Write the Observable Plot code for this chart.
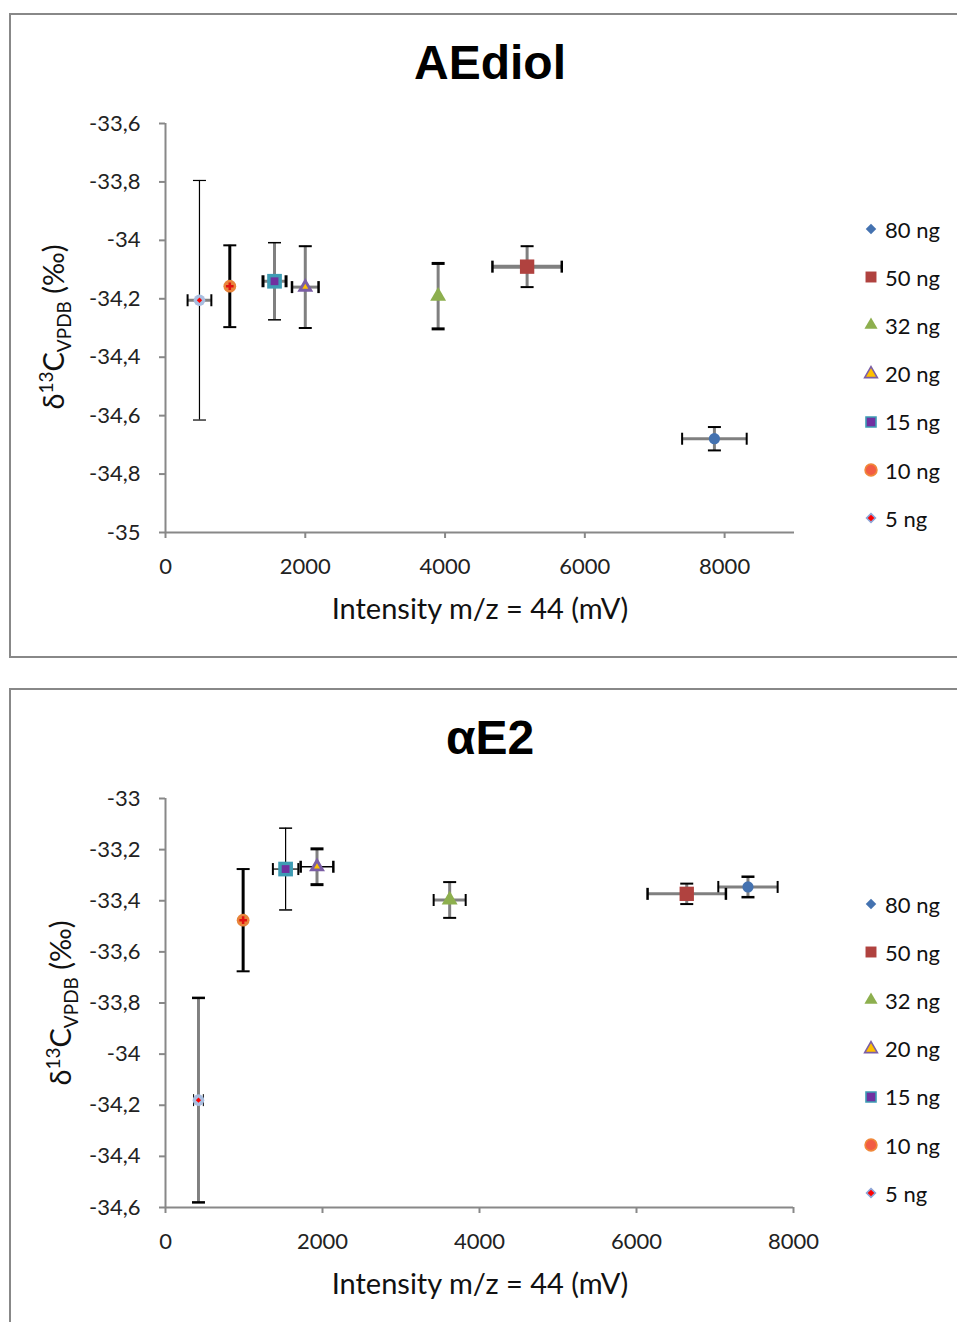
<!DOCTYPE html>
<html>
<head>
<meta charset="utf-8">
<script src="https://cdn.jsdelivr.net/npm/d3@7"></script>
<script src="https://cdn.jsdelivr.net/npm/@observablehq/plot@0.6"></script>
<style>
  html, body { margin: 0; padding: 0; background: #fff; overflow: hidden; }
  #page { position: relative; width: 957px; height: 1322px; overflow: hidden; background: #fff; }
  .frame { position: absolute; left: 9px; width: 980px; border: 2px solid #888; box-sizing: border-box; }
  .title { position: absolute; left: 0; width: 980px; text-align: center; font-family: "Liberation Sans", Arial, sans-serif; font-weight: bold; font-size: 48px; line-height: 48px; color: #000; }
  .chart { position: absolute; left: 0; }
  .xlabel { position: absolute; left: 165px; width: 630px; text-align: center; font-family: Lato, "Noto Sans", sans-serif; font-size: 29px; line-height: 30px; color: #111; white-space: nowrap; }
  .ylabel { position: absolute; font-family: Lato, "Noto Sans", sans-serif; font-size: 29px; color: #111; white-space: nowrap; transform: translate(-50%, -50%) rotate(-90deg); line-height: 30px; }
  .ylabel sup, .ylabel sub { font-size: 19px; }
  .legend { position: absolute; left: 861px; font-family: Lato, "Noto Sans", sans-serif; font-size: 22px; color: #111; }
  .legend .item { position: absolute; left: 0; height: 26px; display: flex; align-items: center; white-space: nowrap; transform: translateY(-50%); }
  .legend svg { width: 20px; height: 20px; margin-right: 4px; }
</style>
</head>
<body>
<div id="page"></div>
<script>
// ---------- data ----------
const seriesNames = ["80 ng", "50 ng", "32 ng", "20 ng", "15 ng", "10 ng", "5 ng"];

// Chart 1: AEdiol
const aeTitle = "AEdiol";
const aeX    = [7854, 5174, 3901, 2000, 1560, 920, 486];
const aeY    = [-34.679, -34.09, -34.191, -34.16, -34.14, -34.157, -34.205];
const aeXErr = [462, 496, 0, 190, 165, 0, 170];
const aeYErr = [0.04, 0.07, 0.112, 0.14, 0.132, 0.14, 0.41];
const aeXTicks = [0, 2000, 4000, 6000, 8000];
const aeYTicks = [-33.6, -33.8, -34, -34.2, -34.4, -34.6, -34.8, -35];
const aeXDomain = [0, 9000];
const aeYDomain = [-35, -33.6];

// Chart 2: αE2
const e2Title = "αE2";
const e2X    = [7420, 6640, 3620, 1930, 1530, 989, 420];
const e2Y    = [-33.346, -33.373, -33.397, -33.267, -33.276, -33.476, -34.18];
const e2XErr = [378, 499, 204, 208, 162, 0, 62];
const e2YErr = [0.04, 0.04, 0.07, 0.07, 0.16, 0.2, 0.4];
const e2XTicks = [0, 2000, 4000, 6000, 8000];
const e2YTicks = [-33, -33.2, -33.4, -33.6, -33.8, -34, -34.2, -34.4, -34.6];
const e2XDomain = [0, 8000];
const e2YDomain = [-34.6, -33];

const xLabel = "Intensity m/z = 44 (mV)";

// ---------- styles ----------
const GRAY = "#808080";
const BLK = "#000";
const aeStyle = {
  vColor: [GRAY, GRAY, GRAY, GRAY, GRAY, BLK, BLK],
  vWidth: [3, 3, 3, 3, 3, 3, 1.2],
  vCapW:  [2, 2, 3, 2, 1.5, 2, 1.2],
  hColor: [GRAY, GRAY, GRAY, GRAY, GRAY, GRAY, GRAY],
  hWidth: [3, 4, 3, 3, 3, 3, 3],
  hCapW:  [2, 2.5, 2, 2.5, 3, 2, 2]
};
const e2Style = {
  vColor: [GRAY, GRAY, GRAY, GRAY, BLK, BLK, GRAY],
  vWidth: [3, 3, 3, 3, 1.2, 3, 3],
  vCapW:  [2.5, 2, 2, 3, 1.5, 2, 2.5],
  hColor: [GRAY, GRAY, GRAY, BLK, BLK, GRAY, GRAY],
  hWidth: [3, 3, 3, 1.5, 1.2, 1, 1],
  hCapW:  [2, 2.5, 2, 2.5, 2, 1, 1]
};

// marker layers per series: [symbol, r, fill]
const markerLayers = [
  [["circle", 5.6, "#4472B0"]],
  [["square", 8.1, "#B0423F"]],
  [["triangle", 5.9, "#8DAF4E"]],
  [["triangle", 5.9, "#7B5EA5"], ["triangle", 2.2, "#FFC000"]],
  [["square", 8.3, "#3E9CB4"], ["square", 4.4, "#7030A0"]],
  [["circle", 6.4, "#E8843A"], ["cross", 3.2, "#E01010"]],
  [["circle", 5.8, "#A9BEE0"], ["diamond2", 2.4, "#FF0000"]]
];

// legend icons per series: [d3 symbol, size, fill, stroke]
const legendLayers = [
  [[d3.symbolDiamond2, 70, "#4472B0", null]],
  [[d3.symbolSquare, 120, "#B0423F", null]],
  [[d3.symbolTriangle, 75, "#8DAF4E", null]],
  [[d3.symbolTriangle, 70, "#FFC000", "#7B5EA5"]],
  [[d3.symbolSquare, 100, "#7030A0", "#3E9CB4"]],
  [[d3.symbolCircle, 110, "#F25C44", "#F0883A"]],
  [[d3.symbolDiamond2, 50, "#FF0000", "#8EA6D8"]]
];

// custom cap symbols
const hCap = { draw(ctx, size) { const w = Math.sqrt(size / Math.PI); ctx.moveTo(-w, 0); ctx.lineTo(w, 0); } };
const vCap = { draw(ctx, size) { const w = Math.sqrt(size / Math.PI); ctx.moveTo(0, -w); ctx.lineTo(0, w); } };

const fmtY = d => String(Math.round(d * 10) / 10).replace(".", ",");

function makeChart(xs, ys, xe, ye, style, xDomain, yDomain, xTicks, yTicks, marginRight) {
  const rows = xs.map((x, i) => ({ x, y: ys[i], ex: xe[i], ey: ye[i], i }));
  const marks = [
    Plot.ruleX([xDomain[0]], { stroke: "#888", strokeWidth: 2 }),
    Plot.ruleY([yDomain[0]], { stroke: "#888", strokeWidth: 2 }),
    Plot.axisY({ ticks: yTicks, tickSize: 6, tickPadding: 19, tickFormat: fmtY, fontSize: 22, stroke: "#888", strokeWidth: 2, fill: "#222", label: null }),
    Plot.axisX({ ticks: xTicks, tickSize: 6, tickPadding: 20, tickFormat: d => String(d), fontSize: 22, stroke: "#888", strokeWidth: 2, fill: "#222", label: null })
  ];
  // error bars
  rows.forEach(r => {
    const i = r.i;
    if (r.ex > 0) {
      marks.push(Plot.ruleY([r], { y: "y", x1: d => d.x - d.ex, x2: d => d.x + d.ex, stroke: style.hColor[i], strokeWidth: style.hWidth[i] }));
      marks.push(Plot.dot([r], { x: d => d.x - d.ex, y: "y", symbol: vCap, r: 6, fill: "none", stroke: BLK, strokeWidth: style.hCapW[i] }));
      marks.push(Plot.dot([r], { x: d => d.x + d.ex, y: "y", symbol: vCap, r: 6, fill: "none", stroke: BLK, strokeWidth: style.hCapW[i] }));
    }
    if (r.ey > 0) {
      marks.push(Plot.ruleX([r], { x: "x", y1: d => d.y - d.ey, y2: d => d.y + d.ey, stroke: style.vColor[i], strokeWidth: style.vWidth[i] }));
      marks.push(Plot.dot([r], { x: "x", y: d => d.y - d.ey, symbol: hCap, r: 6.5, fill: "none", stroke: BLK, strokeWidth: style.vCapW[i] }));
      marks.push(Plot.dot([r], { x: "x", y: d => d.y + d.ey, symbol: hCap, r: 6.5, fill: "none", stroke: BLK, strokeWidth: style.vCapW[i] }));
    }
  });
  // markers
  rows.forEach(r => {
    markerLayers[r.i].forEach(([sym, rad, fill]) => {
      marks.push(Plot.dot([r], { x: "x", y: "y", symbol: sym, r: rad, fill, stroke: "none" }));
    });
  });
  return Plot.plot({
    width: 957,
    height: 500,
    marginLeft: 165,
    marginRight,
    marginTop: 33,
    marginBottom: 58,
    x: { domain: xDomain },
    y: { domain: yDomain },
    style: { fontFamily: "Lato, 'Noto Sans', sans-serif", background: "transparent", overflow: "visible" },
    marks
  });
}

function legendIcon(i) {
  const paths = legendLayers[i].map(([type, size, fill, stroke]) =>
    `<path d="${d3.symbol(type, size)()}" fill="${fill}" ${stroke ? `stroke="${stroke}" stroke-width="1.6"` : ""}/>`).join("");
  return `<svg viewBox="-10 -10 20 20">${paths}</svg>`;
}

const page = document.getElementById("page");
function add(html) { page.insertAdjacentHTML("beforeend", html); return page.lastElementChild; }

function panel(cfg) {
  add(`<div class="frame" style="top:${cfg.frameTop}px;height:${cfg.frameH}px"></div>`);
  add(`<div class="title" style="top:${cfg.titleTop}px">${cfg.title}</div>`);
  const holder = add(`<div class="chart" style="top:${cfg.svgTop}px"></div>`);
  holder.appendChild(makeChart(...cfg.args));
  add(`<div class="xlabel" style="top:${cfg.xlabTop}px">${xLabel}</div>`);
  add(`<div class="ylabel" style="left:${cfg.ylabX}px;top:${cfg.ylabY}px">δ<sup>13</sup>C<sub>VPDB</sub> (‰)</div>`);
  const leg = add(`<div class="legend" style="top:${cfg.legTop}px"></div>`);
  seriesNames.forEach((name, i) => {
    leg.insertAdjacentHTML("beforeend", `<div class="item" style="top:${i * 48.2}px">${legendIcon(i)}<span>${name}</span></div>`);
  });
}

panel({
  frameTop: 13, frameH: 645, title: aeTitle, titleTop: 39, svgTop: 90,
  args: [aeX, aeY, aeXErr, aeYErr, aeStyle, aeXDomain, aeYDomain, aeXTicks, aeYTicks, 163],
  xlabTop: 593, ylabX: 55, ylabY: 327, legTop: 229
});
panel({
  frameTop: 688, frameH: 700, title: e2Title, titleTop: 714, svgTop: 765,
  args: [e2X, e2Y, e2XErr, e2YErr, e2Style, e2XDomain, e2YDomain, e2XTicks, e2YTicks, 164],
  xlabTop: 1268, ylabX: 62, ylabY: 1003, legTop: 904
});
</script>
</body>
</html>
